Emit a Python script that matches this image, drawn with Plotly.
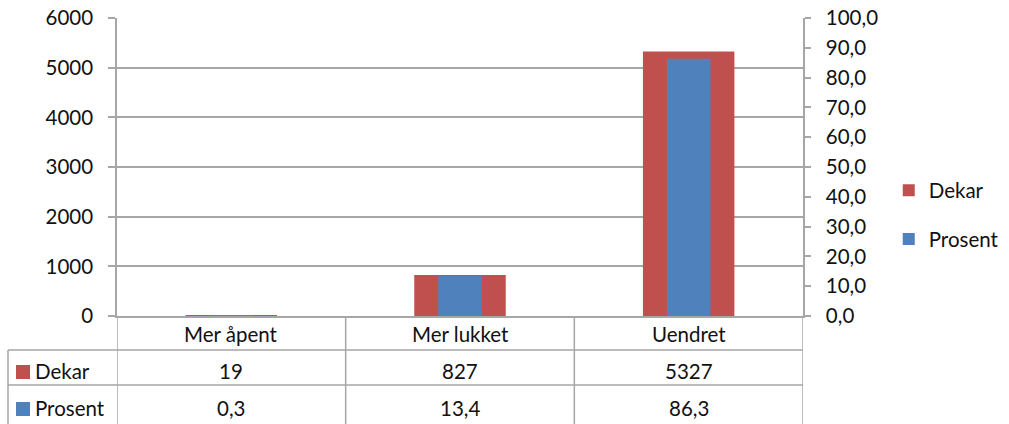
import plotly.graph_objects as go

categories = ["Mer åpent", "Mer lukket", "Uendret"]
dekar = [19, 827, 5327]
prosent = [0.3, 13.4, 86.3]
left_ticks = [0, 1000, 2000, 3000, 4000, 5000, 6000]
right_ticks = [0, 10, 20, 30, 40, 50, 60, 70, 80, 90, 100]

RED = "#C0504D"
BLUE = "#4F81BD"
GRID = "#A6A6A6"
FONT = "Lato"
FS = 20.5
TXT = "#111111"

fig = go.Figure()
fig.add_trace(go.Bar(x=list(range(3)), y=dekar, name="Dekar", marker_color=RED,
                     marker_line_width=0, width=0.4, yaxis="y", legendgroup="a"))
fig.add_trace(go.Bar(x=list(range(3)), y=prosent, name="Prosent", marker_color=BLUE,
                     marker_line_width=0, width=0.19, yaxis="y2", legendgroup="b"))

# table geometry in paper coords (plot 298px tall, 686px wide)
H = 298.0
W = 686.0
def py(p):
    return (316 - p) / H
def px(p):
    return (p - 117) / W

shapes = []
line = dict(color=GRID, width=1.5)
for yy in [350, 385]:
    shapes.append(dict(type="line", xref="paper", yref="paper", x0=px(8), x1=1, y0=py(yy), y1=py(yy), line=line))
shapes.append(dict(type="line", xref="paper", yref="paper", x0=px(8), x1=px(8), y0=py(350), y1=py(430), line=line))
for b in [-0.5, 0.5, 1.5, 2.5]:
    shapes.append(dict(type="line", xref="x", yref="paper", x0=b, x1=b, y0=0, y1=py(430), line=line))
for yy, col in [(372, RED), (409, BLUE)]:
    shapes.append(dict(type="rect", xref="paper", yref="paper", x0=px(16), x1=px(30),
                       y0=py(yy + 7), y1=py(yy - 7), fillcolor=col, line=dict(width=0)))

annotations = []
tf = dict(family=FONT, size=FS, color=TXT)
for i, c in enumerate(categories):
    annotations.append(dict(x=i, y=py(334), xref="x", yref="paper", text=c, showarrow=False,
                            xanchor="center", yanchor="middle", font=tf))
    annotations.append(dict(x=i, y=py(371), xref="x", yref="paper", text=str(dekar[i]), showarrow=False,
                            xanchor="center", yanchor="middle", font=tf))
    annotations.append(dict(x=i, y=py(408), xref="x", yref="paper", text=f"{prosent[i]:.1f}".replace(".", ","),
                            showarrow=False, xanchor="center", yanchor="middle", font=tf))
for yy, t in [(371, "Dekar"), (408, "Prosent")]:
    annotations.append(dict(x=px(33), y=py(yy), xref="paper", yref="paper", text=t, showarrow=False,
                            xanchor="left", yanchor="middle", font=tf))

fig.update_layout(
    width=1009, height=424,
    margin=dict(l=117, r=206, t=18, b=108, autoexpand=False),
    plot_bgcolor="white", paper_bgcolor="white",
    barmode="overlay",
    separators=", ",
    font=tf,
    xaxis=dict(range=[-0.5, 2.5], showticklabels=False, showgrid=False, zeroline=False,
               showline=True, linecolor=GRID, linewidth=1.5, ticks="", automargin=False),
    yaxis=dict(range=[0, 6000], tickvals=left_ticks, ticktext=[str(v) for v in left_ticks],
               showgrid=True, gridcolor=GRID, gridwidth=1.5, zeroline=False,
               showline=True, linecolor=GRID, linewidth=1.5, ticks="outside", ticklen=7,
               tickcolor=GRID, tickwidth=1.5, ticklabelstandoff=11, automargin=False),
    yaxis2=dict(range=[0, 100], overlaying="y", side="right", tickvals=right_ticks,
                ticktext=[f"{v:.1f}".replace(".", ",") for v in right_ticks],
                showgrid=False, zeroline=False, showline=True, linecolor=GRID, linewidth=1.5,
                ticks="outside", ticklen=6, tickcolor=GRID, tickwidth=1.5, ticklabelstandoff=11,
                automargin=False),
    legend=dict(x=1.125, y=0.339, xanchor="left", yanchor="middle", traceorder="grouped",
                tracegroupgap=19, font=tf, itemwidth=30, bgcolor="rgba(0,0,0,0)"),
    shapes=shapes, annotations=annotations, showlegend=True,
)

fig.write_html("out.html", config={"displayModeBar": False},
               post_script="document.body.style.margin='0';document.body.style.padding='0';document.body.style.overflow='hidden';")
